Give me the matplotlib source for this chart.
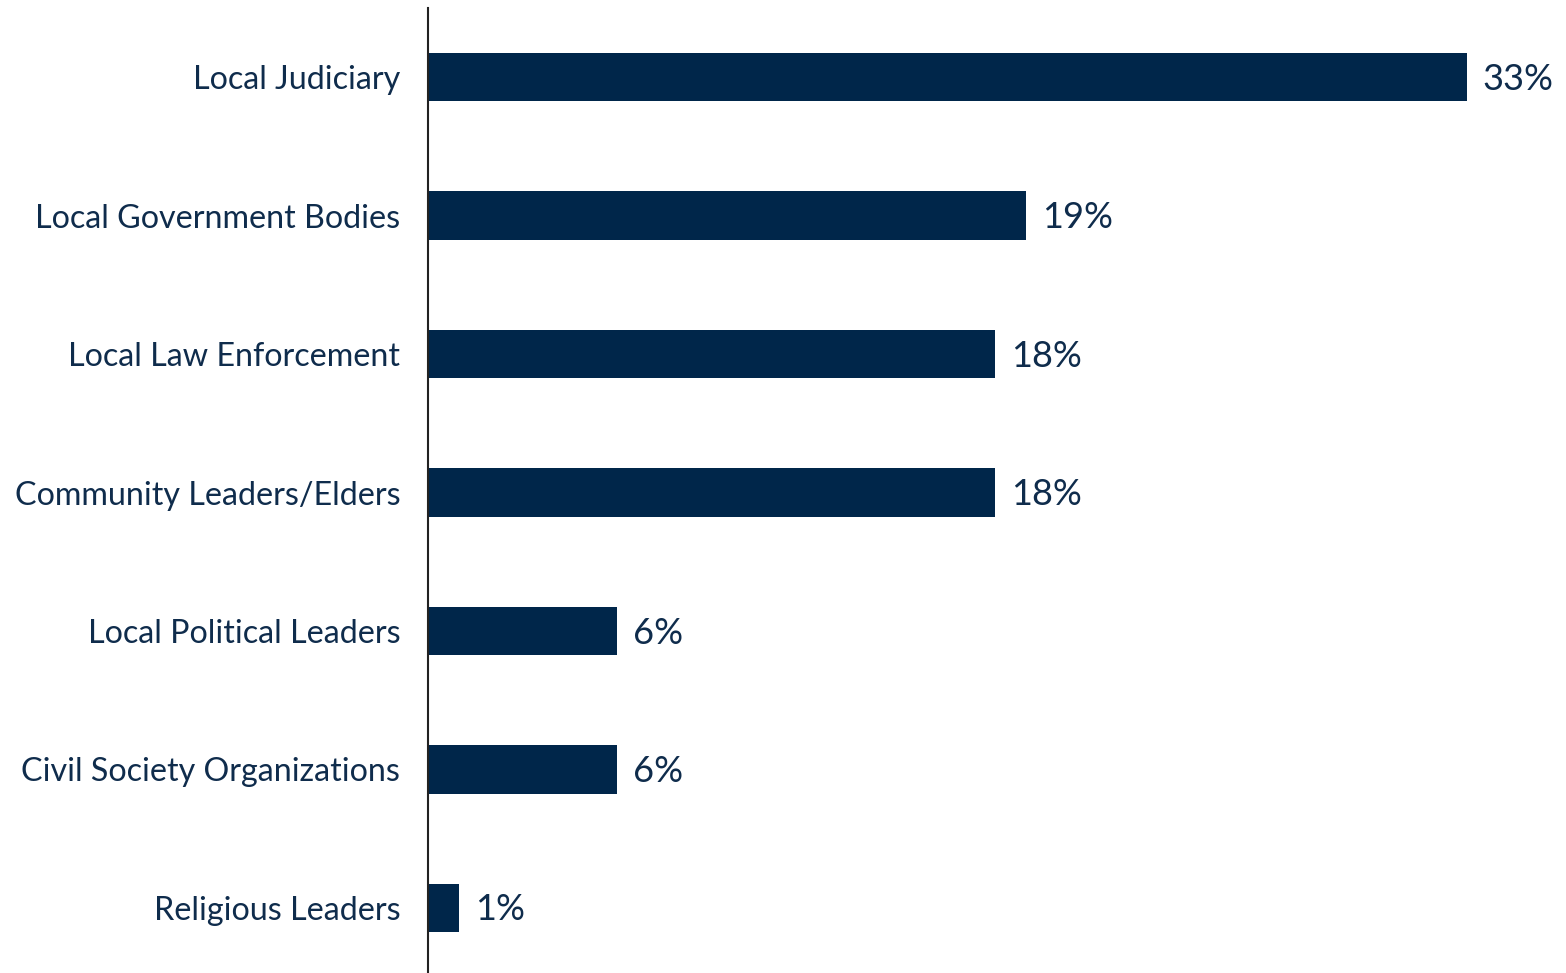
import matplotlib
matplotlib.use("Agg")
import matplotlib.pyplot as plt

categories = ["Local Judiciary", "Local Government Bodies", "Local Law Enforcement",
              "Community Leaders/Elders", "Local Political Leaders",
              "Civil Society Organizations", "Religious Leaders"]
values = [33, 19, 18, 18, 6, 6, 1]
value_labels = ["33%", "19%", "18%", "18%", "6%", "6%", "1%"]

navy = "#00264A"
text_color = "#0F2C4C"
plt.rcParams['font.family'] = ['Lato', 'DejaVu Sans']

fig = plt.figure(figsize=(15.66, 9.73), dpi=100)
ax = fig.add_axes([428/1566, 0, 1 - 428/1566, 1 - 8/973])

y = list(range(len(categories)))
ax.barh(y, values, height=0.35, color=navy)
ax.set_ylim(6.47, -0.5)
ax.set_xlim(0, (1566 - 428) / 31.48)

for yi, v, lab in zip(y, values, value_labels):
    ax.annotate(lab, xy=(v, yi), xytext=(16, -2), textcoords="offset pixels",
                va="center", ha="left", fontsize=26, color=text_color)

ax.set_yticks(y)
ax.set_yticklabels(categories, fontsize=23.2, color=text_color)
ax.tick_params(axis="y", length=0, pad=20)
ax.set_xticks([])
for s in ["top", "right", "bottom"]:
    ax.spines[s].set_visible(False)
ax.spines["left"].set_color("#222222")
ax.spines["left"].set_linewidth(1.5)

fig.savefig("out.png", dpi=100)
